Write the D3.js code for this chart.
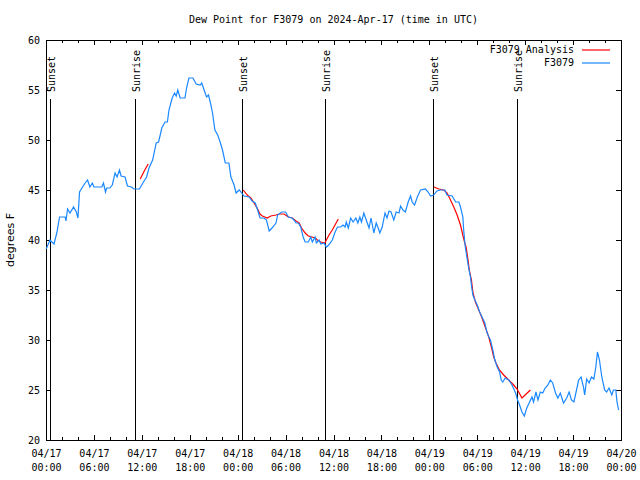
<!DOCTYPE html>
<html lang="en">
<head>
<meta charset="utf-8">
<title>Dew Point for F3079</title>
<script src="https://d3js.org/d3.v7.min.js"></script>
<style>
  body { margin: 0; background: #fff; }
  svg { display: block; }
  text { font-family: "DejaVu Sans Mono", monospace; font-size: 10px; fill: #000; }
  .ylab { font-family: "DejaVu Sans", sans-serif; font-size: 11px; }
  .axis path { display: none; }
  .axis line { stroke: #000; shape-rendering: crispEdges; }
</style>
</head>
<body>
<div id="viz"></div>
<script>
// hours since 2024-04-17 00:00 UTC
var obsHours = [0.02,0.5,1.0,1.35,1.7,2.4,2.5,2.7,3.0,3.45,3.8,4.0,4.2,4.5,4.9,5.2,5.5,5.8,6.0,7.0,7.2,7.45,7.6,8.0,8.3,8.65,8.9,9.2,9.4,9.9,10.2,10.7,11.0,11.7,12.2,12.6,12.9,13.35,13.8,14.1,14.5,14.9,15.2,15.4,15.8,16.1,16.3,16.5,16.8,17.4,17.6,17.9,18.4,18.8,19.3,19.5,19.8,20.1,20.35,20.65,20.85,21.15,21.5,21.8,22.1,22.45,22.9,23.15,23.55,23.8,24.2,24.5,24.8,25.45,25.8,26.2,26.5,26.8,27.3,27.6,27.95,28.3,28.8,29.0,29.5,30.0,30.35,30.8,31.05,31.3,31.6,31.9,32.2,32.45,32.85,33.15,33.35,33.7,33.85,34.2,34.4,34.8,35.1,35.4,35.85,36.2,36.5,36.9,37.2,37.45,37.6,37.85,38.15,38.45,38.8,39.05,39.3,39.5,39.8,40.1,40.45,40.7,41.05,41.35,41.6,41.8,42.1,42.45,42.7,42.95,43.2,43.55,43.85,44.2,44.4,44.7,45.0,45.35,45.65,45.85,46.15,46.5,46.9,47.5,47.85,48.15,48.55,48.95,49.4,49.95,50.2,50.85,51.3,51.7,51.9,52.2,52.3,52.5,52.7,52.9,53.15,53.3,53.45,53.7,54.0,54.3,54.6,54.95,55.2,55.45,55.65,55.95,56.2,56.5,56.8,57.0,57.2,57.5,57.95,58.35,58.8,59.05,59.3,59.6,59.9,60.2,60.5,60.85,61.05,61.35,61.6,61.9,62.2,62.5,62.85,63.15,63.45,63.8,64.1,64.4,64.8,65.2,65.5,65.8,66.1,66.35,66.7,67.0,67.3,67.45,67.7,68.0,68.3,68.6,68.85,69.05,69.3,69.6,69.95,70.2,70.5,70.85,71.05,71.35,71.5,71.7];
var obsValues = [39.1,40.0,39.6,40.7,42.3,42.3,41.9,43.1,42.7,43.3,42.8,42.2,44.8,45.2,45.7,46.0,45.3,45.7,45.3,45.3,45.7,44.8,45.2,45.2,45.5,46.7,46.3,47.0,46.4,46.3,45.4,45.3,45.1,45.1,45.8,46.3,47.2,48.0,49.7,49.8,51.2,51.8,51.8,53.0,54.2,54.7,54.4,55.0,54.2,54.2,55.2,56.2,56.2,55.6,55.5,55.7,55.0,54.3,54.5,53.5,52.7,51.0,50.5,49.8,49.0,47.7,47.7,46.3,45.5,44.7,45.0,44.7,44.4,44.3,43.9,43.7,43.0,42.2,42.2,42.0,40.9,41.2,41.7,42.5,42.8,42.8,42.3,42.2,42.0,41.7,41.7,41.3,40.3,39.8,39.8,40.3,39.8,40.3,39.7,40.0,39.6,39.7,39.3,39.5,40.0,40.8,41.3,41.3,41.5,41.3,41.8,41.2,42.2,41.8,42.2,41.7,42.3,41.8,42.7,42.0,41.2,42.2,40.7,41.7,41.2,40.7,41.3,42.7,42.2,42.9,42.8,42.0,42.8,42.7,43.4,43.0,42.8,43.8,44.4,43.8,43.5,44.3,45.0,45.1,44.8,44.4,44.5,44.9,45.0,45.0,44.5,44.4,43.8,43.8,43.3,42.3,41.0,39.3,38.3,37.3,36.3,35.3,34.5,34.0,33.5,32.8,32.3,31.7,30.8,30.3,30.0,29.0,28.0,27.3,26.8,26.0,25.8,26.2,26.0,25.5,24.7,24.0,23.5,22.8,22.4,23.2,23.7,24.3,23.8,24.8,24.0,24.8,24.7,25.2,25.5,26.0,25.7,24.7,24.2,24.7,23.7,24.2,24.8,24.0,23.8,24.7,26.0,26.3,25.3,24.5,26.1,25.7,26.3,26.1,27.3,28.8,28.0,26.3,25.0,24.8,25.2,24.5,25.0,25.0,23.8,23.0];

var anaHours1 = [11.8,12.3,12.8];
var anaValues1 = [46.1,46.9,47.6];
var anaHours2 = [24.7,25.2,25.65,26.06,26.5,26.8,27.1,27.7,28.15,28.8,29.2,29.8,30.35,30.85,31.3,31.7,32.0,32.45,32.85,33.3,33.7,33.98,34.4,34.94,35.1,35.44,35.85,36.19,36.6];
var anaValues2 = [45.0,44.5,44.2,43.7,43.1,42.6,42.4,42.2,42.4,42.5,42.6,42.6,42.3,42.2,41.9,41.7,41.2,40.7,40.4,40.3,40.2,40.0,39.8,39.7,40.0,40.5,41.0,41.5,42.1];
var anaHours3 = [48.56,49.2,49.8,50.23,50.65,51.06,51.48,51.9,52.19,52.44,52.6,52.85,53.0,53.27,53.47,53.77,54.19,54.6,55.0,55.44,55.77,56.06,56.35,56.77,57.31,57.94,58.56,58.98,59.6,60.65];
var anaValues3 = [45.3,45.1,45.0,44.7,44.0,43.3,42.5,41.5,40.5,39.7,39.3,38.0,37.0,36.0,34.7,33.8,33.0,32.2,31.3,30.3,29.3,28.3,27.7,27.0,26.5,26.0,25.5,25.1,24.2,25.0];

var sunHours = [0.48,11.1,24.48,34.98,48.48,58.98];
var sunLabels = ["Sunset","Sunrise","Sunset","Sunrise","Sunset","Sunrise"];

var yTicks = [20,25,30,35,40,45,50,55,60];
var seriesNames = ["F3079 Analysis","F3079"];
var seriesColors = ["#ff0000","#1a88ff"];

var t0 = Date.UTC(2024, 3, 17);
function toDate(h) { return new Date(t0 + h * 3600000); }

var margin = {top: 40, right: 19, bottom: 40, left: 46};
var width = 640 - margin.left - margin.right;
var height = 480 - margin.top - margin.bottom;

var x = d3.scaleUtc()
  .domain([toDate(0), toDate(72)])
  .range([0, width]);
var y = d3.scaleLinear()
  .domain([20, 60])
  .range([height, 0]);

var svg = d3.select("#viz").append("svg")
  .attr("width", 640)
  .attr("height", 480);

svg.append("text")
  .attr("x", margin.left + width / 2)
  .attr("y", 20)
  .attr("text-anchor", "middle")
  .attr("dominant-baseline", "middle")
  .text("Dew Point for F3079 on 2024-Apr-17 (time in UTC)");

svg.append("text")
  .attr("class", "ylab")
  .attr("transform", "translate(11," + (margin.top + height / 2) + ") rotate(-90)")
  .attr("text-anchor", "middle")
  .attr("dominant-baseline", "middle")
  .text("degrees F");

var g = svg.append("g")
  .attr("transform", "translate(" + margin.left + "," + margin.top + ")");

var majorX = d3.utcHour.every(6).range(toDate(0), toDate(72.01));
var minorX = d3.utcHour.every(2).range(toDate(0), toDate(72.01))
  .filter(function(d) { return d.getUTCHours() % 6 != 0; });
var fmtDay = d3.utcFormat("%m/%d");
var fmtTime = d3.utcFormat("%H:%M");

// bottom axis with two-line labels
var bottom = g.append("g")
  .attr("class", "axis")
  .attr("transform", "translate(0," + height + ")")
  .call(d3.axisBottom(x).tickValues(majorX).tickSize(-5).tickPadding(8).tickFormat(""));
bottom.selectAll(".tick").append("text")
  .attr("text-anchor", "middle")
  .each(function(d) {
    var t = d3.select(this);
    t.append("tspan").attr("x", 0).attr("y", 17).text(fmtDay(d));
    t.append("tspan").attr("x", 0).attr("y", 31).text(fmtTime(d));
  });
g.append("g").attr("class", "axis")
  .attr("transform", "translate(0," + height + ")")
  .call(d3.axisBottom(x).tickValues(minorX).tickSize(-3).tickFormat(""));
g.append("g").attr("class", "axis")
  .call(d3.axisTop(x).tickValues(majorX).tickSize(-5).tickFormat(""));
g.append("g").attr("class", "axis")
  .call(d3.axisTop(x).tickValues(minorX).tickSize(-3).tickFormat(""));

var left = g.append("g").attr("class", "axis")
  .call(d3.axisLeft(y).tickValues(yTicks).tickSize(-5).tickPadding(6));
left.selectAll("text").attr("dy", "0.35em").style("font-size", "10px");
g.append("g").attr("class", "axis")
  .attr("transform", "translate(" + width + ",0)")
  .call(d3.axisRight(y).tickValues(yTicks).tickSize(-5).tickFormat(""));

g.append("rect")
  .attr("x", 0.5).attr("y", 0.5)
  .attr("width", width).attr("height", height)
  .attr("fill", "none")
  .attr("stroke", "#000")
  .attr("shape-rendering", "crispEdges");

// sunrise / sunset markers
var sun = g.selectAll(".sun")
  .data(sunHours)
  .enter().append("g")
  .attr("class", "sun")
  .attr("transform", function(d) { return "translate(" + Math.round(x(toDate(d))) + ",0)"; });
sun.append("line")
  .attr("x1", 0.5).attr("x2", 0.5)
  .attr("y1", 59).attr("y2", height)
  .attr("stroke", "#000")
  .attr("shape-rendering", "crispEdges");
sun.append("text")
  .attr("transform", "translate(2,52) rotate(-90)")
  .attr("text-anchor", "start")
  .attr("dominant-baseline", "middle")
  .text(function(d, i) { return sunLabels[i]; });

var line = d3.line()
  .x(function(d) { return x(toDate(d[0])); })
  .y(function(d) { return y(d[1]); });

function pairs(hs, vs) { return hs.map(function(h, i) { return [h, vs[i]]; }); }

[pairs(anaHours1, anaValues1), pairs(anaHours2, anaValues2), pairs(anaHours3, anaValues3)]
  .forEach(function(seg) {
    g.append("path")
      .datum(seg)
      .attr("fill", "none")
      .attr("stroke", seriesColors[0])
      .attr("stroke-width", 1.2)
      .attr("d", line);
  });

g.append("path")
  .datum(pairs(obsHours, obsValues))
  .attr("fill", "none")
  .attr("stroke", seriesColors[1])
  .attr("stroke-width", 1.2)
  .attr("d", line);

// legend
var legend = g.selectAll(".legend")
  .data(seriesNames)
  .enter().append("g")
  .attr("class", "legend")
  .attr("transform", function(d, i) { return "translate(0," + (10 + i * 13) + ")"; });
legend.append("text")
  .attr("x", 528)
  .attr("text-anchor", "end")
  .attr("dominant-baseline", "middle")
  .text(function(d) { return d; });
legend.append("line")
  .attr("x1", 536).attr("x2", 564)
  .attr("y1", 0).attr("y2", 0)
  .attr("stroke", function(d, i) { return seriesColors[i]; })
  .attr("stroke-width", 1.2);
</script>
</body>
</html>
